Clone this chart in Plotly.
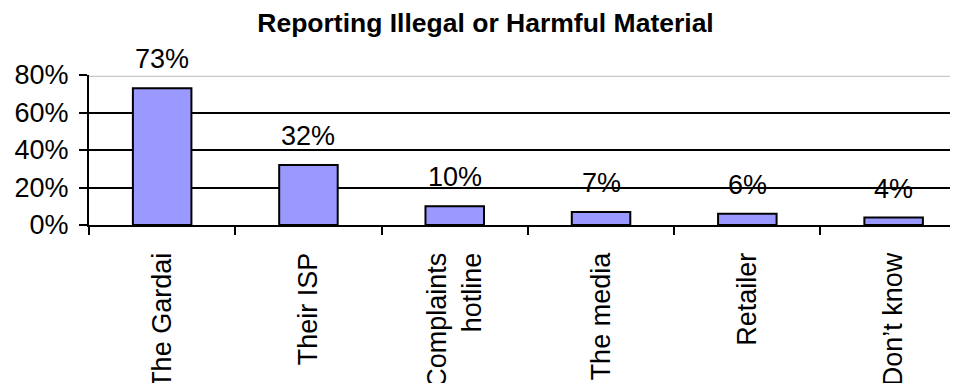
import plotly.graph_objects as go

# --- adatok ---
categories = ["The Gardai", "Their ISP", "Complaints<br>hotline", "The media", "Retailer", "Don\u2019t know"]
values = [0.73, 0.32, 0.10, 0.07, 0.06, 0.04]
value_labels = ["73%", "32%", "10%", "7%", "6%", "4%"]
y_ticks = [0, 0.2, 0.4, 0.6, 0.8]
y_tick_labels = ["0%", "20%", "40%", "60%", "80%"]

FONT = "Liberation Sans, Arial, sans-serif"
BAR = "#9999FF"

# az oldal 8px-es body margója miatt a vászon 8px-el kisebb
W, H = 950, 375

fig = go.Figure()

fig.add_trace(go.Bar(
    x=categories, y=values,
    width=0.4,
    marker=dict(color=BAR, line=dict(color="black", width=2)),
    hoverinfo="skip",
))

# Értékcímkék a sávok fölött
for cat, val, lab in zip(categories, values, value_labels):
    fig.add_annotation(
        x=cat, y=val, text=lab, showarrow=False,
        yanchor="bottom", yshift=12,
        font=dict(family=FONT, size=27, color="black"),
    )

# 80%-os vonal: halványszürke dupla vonal
fig.add_shape(type="line", xref="paper", yref="y", x0=0, x1=1, y0=0.8, y1=0.8,
              line=dict(color="#c8c8c8", width=4), layer="above")
fig.add_shape(type="line", xref="paper", yref="y", x0=0, x1=1, y0=0.8, y1=0.8,
              line=dict(color="white", width=1.5), layer="above")

fig.update_layout(
    width=W, height=H,
    paper_bgcolor="white", plot_bgcolor="white",
    showlegend=False,
    margin=dict(l=81, r=0, t=67, b=158, autoexpand=False),
    font=dict(family=FONT, size=27, color="black"),
    title=dict(
        text="<b>Reporting Illegal or Harmful Material</b>",
        x=477.5 / W, xref="container", xanchor="center",
        y=1 - 15 / H, yref="container", yanchor="middle",
        font=dict(family=FONT, size=26.5, color="black"),
    ),
    bargap=0.6,
)

fig.update_xaxes(
    type="category",
    range=[-0.5, 5.44],
    automargin=False,
    tickangle=-90,
    tickson="boundaries",
    ticks="outside", ticklen=8, tickwidth=2, tickcolor="black",
    ticklabelstandoff=15,
    showline=True, linecolor="black", linewidth=2,
    showgrid=False,
    tickfont=dict(family=FONT, size=27, color="black"),
)

fig.update_yaxes(
    range=[0, 0.8],
    automargin=False,
    tickvals=y_ticks, ticktext=y_tick_labels,
    ticks="outside", ticklen=8, tickwidth=2, tickcolor="black",
    ticklabelstandoff=5,
    showline=True, linecolor="black", linewidth=2,
    showgrid=True, gridcolor="black", gridwidth=2,
    zeroline=False,
    tickfont=dict(family=FONT, size=27, color="black"),
)

fig.write_html("out.html")
